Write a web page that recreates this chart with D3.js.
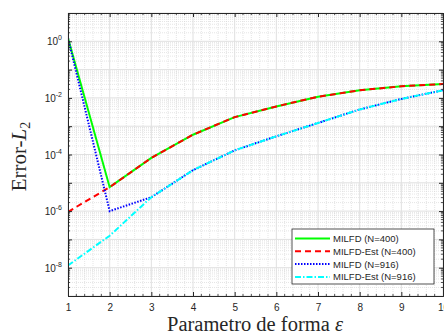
<!DOCTYPE html>
<html>
<head>
<meta charset="utf-8">
<script src="https://cdn.jsdelivr.net/npm/d3@7"></script>
<style>
  body { margin: 0; background: #fff; }
  svg { display: block; }
  .tick text { font-family: "Liberation Sans", Arial, sans-serif; }
</style>
</head>
<body>
<div id="chart"></div>
<script>
// data
const epsVals = [1, 2, 3, 4, 5, 6, 7, 8, 9, 10];
const milfd400 = [1.3, 7e-6, 7.6e-5, 5e-4, 2.1e-3, 5e-3, 1.1e-2, 1.86e-2, 2.57e-2, 3.1e-2];
const milfdEst400 = [9.4e-7, 7e-6, 7.6e-5, 5e-4, 2.1e-3, 5e-3, 1.1e-2, 1.86e-2, 2.57e-2, 3.1e-2];
const milfd916 = [1.3, 1e-6, 3.1e-6, 2.8e-5, 1.4e-4, 4.4e-4, 1.3e-3, 3.9e-3, 9.2e-3, 1.86e-2];
const milfdEst916 = [1.2e-8, 1.35e-7, 3.1e-6, 2.8e-5, 1.4e-4, 4.4e-4, 1.3e-3, 3.9e-3, 9.2e-3, 1.86e-2];
const seriesNames = ["MILFD (N=400)", "MILFD-Est (N=400)", "MILFD (N=916)", "MILFD-Est (N=916)"];
const xTicks = [1, 2, 3, 4, 5, 6, 7, 8, 9, 10];
const yTickExps = [0, -2, -4, -6, -8];

const W = 444, H = 336;
const margin = { left: 68, right: 1, top: 13, bottom: 40 };
const width = W - margin.left - margin.right;
const height = H - margin.top - margin.bottom;

const svg = d3.select("#chart").append("svg")
  .attr("width", W).attr("height", H);

const x = d3.scaleLinear().domain([1, 10]).range([0, width]);
const y = d3.scaleLog().domain([1e-9, 1e1]).range([height, 0]);

const g = svg.append("g")
  .attr("transform", "translate(" + margin.left + "," + margin.top + ")");

// minor grid
const xMinor = d3.range(1, 10.001, 0.2).filter(v => Math.abs(v - Math.round(v)) > 1e-6);
const yMinor = [];
for (let e = -9; e < 1; e++) for (let k = 2; k <= 9; k++) yMinor.push(k * Math.pow(10, e));

g.append("g").selectAll("line").data(xMinor).enter().append("line")
  .attr("x1", d => x(d)).attr("x2", d => x(d))
  .attr("y1", 0).attr("y2", height)
  .attr("stroke", "#d4d4d4").attr("stroke-width", 0.6).attr("stroke-dasharray", "1,1");
g.append("g").selectAll("line").data(yMinor).enter().append("line")
  .attr("x1", 0).attr("x2", width)
  .attr("y1", d => y(d)).attr("y2", d => y(d))
  .attr("stroke", "#d4d4d4").attr("stroke-width", 0.6).attr("stroke-dasharray", "1,1");

// major grid
const yMajor = d3.range(-9, 2).map(e => Math.pow(10, e));
g.append("g").selectAll("line").data(xTicks).enter().append("line")
  .attr("x1", d => x(d)).attr("x2", d => x(d))
  .attr("y1", 0).attr("y2", height)
  .attr("stroke", "#e0e0e0").attr("stroke-width", 1);
g.append("g").selectAll("line").data(yMajor).enter().append("line")
  .attr("x1", 0).attr("x2", width)
  .attr("y1", d => y(d)).attr("y2", d => y(d))
  .attr("stroke", "#e0e0e0").attr("stroke-width", 1);

// lines
g.append("clipPath").attr("id", "clip").append("rect")
  .attr("width", width).attr("height", height);
const plot = g.append("g").attr("clip-path", "url(#clip)");
const line = d3.line().x((d, i) => x(epsVals[i])).y(d => y(d));

const series = [
  { vals: milfd400, color: "#00ff00", dash: null },
  { vals: milfdEst400, color: "#ff0000", dash: "6,4" },
  { vals: milfd916, color: "#0000ff", dash: "1.5,1.5" },
  { vals: milfdEst916, color: "#00ffff", dash: "6,2,1.5,2" }
];
series.forEach(s => {
  plot.append("path").datum(s.vals)
    .attr("d", line)
    .attr("fill", "none")
    .attr("stroke", s.color)
    .attr("stroke-width", 2)
    .attr("stroke-dasharray", s.dash);
});

// axes
const axCol = "#262626";
const xAxis = g.append("g").attr("transform", "translate(0," + height + ")")
  .call(d3.axisBottom(x).tickValues(xTicks).tickSize(-4).tickPadding(8).tickFormat(d3.format("d")));
const xAxisTop = g.append("g")
  .call(d3.axisTop(x).tickValues(xTicks).tickSize(-4).tickFormat(""));
const yAxis = g.append("g")
  .call(d3.axisLeft(y).tickValues(yMajor).tickSize(-4).tickFormat(""));
const yAxisR = g.append("g").attr("transform", "translate(" + width + ",0)")
  .call(d3.axisRight(y).tickValues(yMajor).tickSize(-4).tickFormat(""));
[xAxis, xAxisTop, yAxis, yAxisR].forEach(a => {
  a.select(".domain").attr("stroke", axCol);
  a.selectAll(".tick line").attr("stroke", axCol);
});
xAxis.selectAll("text").attr("font-size", 10).attr("fill", axCol);

// minor ticks on the box
[0, width].forEach(px => {
  const dir = px === 0 ? 1 : -1;
  g.append("g").selectAll("line").data(yMinor).enter().append("line")
    .attr("x1", px).attr("x2", px + dir * 2)
    .attr("y1", d => y(d)).attr("y2", d => y(d))
    .attr("stroke", axCol).attr("stroke-width", 0.8);
});
[0, height].forEach(py => {
  const dir = py === 0 ? 1 : -1;
  g.append("g").selectAll("line").data(xMinor).enter().append("line")
    .attr("x1", d => x(d)).attr("x2", d => x(d))
    .attr("y1", py).attr("y2", py + dir * 2)
    .attr("stroke", axCol).attr("stroke-width", 0.8);
});

// y tick labels 10^n
yTickExps.forEach(e => {
  const t = g.append("text")
    .attr("x", -6).attr("y", y(Math.pow(10, e)) + 4)
    .attr("text-anchor", "end")
    .attr("font-family", "Liberation Sans, Arial, sans-serif")
    .attr("font-size", 10).attr("fill", axCol);
  t.append("tspan").text("10");
  t.append("tspan").attr("font-size", 7).attr("dy", -5).text(e);
});

// axis labels
svg.append("text")
  .attr("x", 255).attr("y", 331)
  .attr("text-anchor", "middle")
  .attr("font-family", "Liberation Serif, DejaVu Serif, serif")
  .attr("font-size", 20.5).attr("fill", axCol)
  .html('Parametro de forma <tspan font-style="italic">ε</tspan>');

const yl = svg.append("text")
  .attr("transform", "translate(26," + (margin.top + height / 2 + 2) + ") rotate(-90)")
  .attr("text-anchor", "middle")
  .attr("font-family", "Liberation Serif, DejaVu Serif, serif")
  .attr("font-size", 21).attr("fill", axCol);
yl.append("tspan").text("Error-");
yl.append("tspan").attr("font-style", "italic").text("L");
yl.append("tspan").attr("font-size", 14).attr("dy", 4).text("2");

// legend
const lg = svg.append("g").attr("transform", "translate(292,229)");
lg.append("rect").attr("width", 142).attr("height", 55)
  .attr("fill", "#fff").attr("stroke", axCol).attr("stroke-width", 0.8);
seriesNames.forEach((name, i) => {
  const yy = 9.5 + i * 12.8;
  lg.append("line").attr("x1", 3).attr("x2", 38).attr("y1", yy).attr("y2", yy)
    .attr("stroke", series[i].color).attr("stroke-width", 2)
    .attr("stroke-dasharray", series[i].dash);
  lg.append("text").attr("x", 41).attr("y", yy + 3.5)
    .attr("font-family", "Liberation Sans, Arial, sans-serif")
    .attr("font-size", 9.5).attr("fill", axCol).text(name);
});
</script>
</body>
</html>
